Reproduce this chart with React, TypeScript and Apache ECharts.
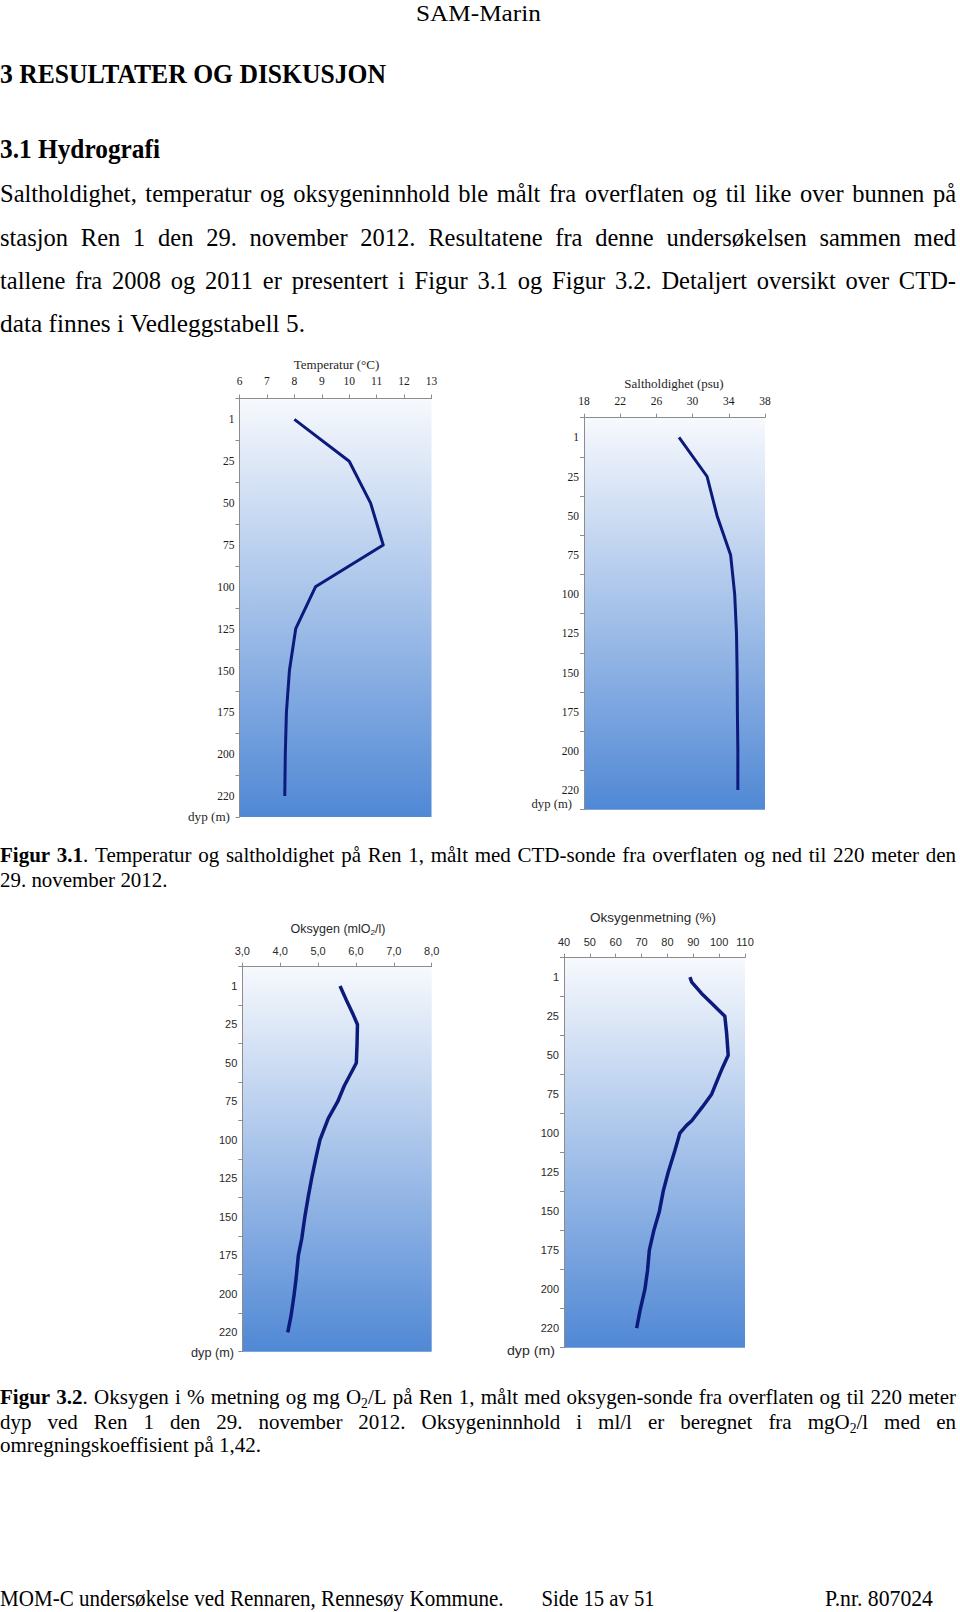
import React, { useEffect, useRef } from 'react';
import * as echarts from 'echarts';

// ---------------- data ----------------
const depthLabels = ['1', '25', '50', '75', '100', '125', '150', '175', '200', '220'];
const temperature = [8.0, 10.0, 10.78, 11.24, 8.77, 8.05, 7.82, 7.71, 7.67, 7.65];
const salinity = [28.5, 31.6, 32.7, 34.2, 34.65, 34.85, 34.92, 34.95, 35.0, 35.0];
const salinityTicks = [18, 22, 26, 30, 34, 38];
const oxygenDepths = [1, 10, 19, 25, 37, 50, 58, 65, 75, 86, 100, 112, 125, 137, 150, 164, 175, 190, 200, 211, 220];
const oxygenMl = [5.58, 5.75, 5.93, 6.04, 6.03, 6.01, 5.84, 5.69, 5.52, 5.27, 5.05, 4.94, 4.83, 4.74, 4.65, 4.57, 4.48, 4.42, 4.37, 4.29, 4.2];
const saturationDepths = [1, 4, 11, 17, 25, 36, 50, 58, 66, 75, 83, 92, 95, 100, 111, 125, 137, 150, 162, 175, 188, 200, 211, 220];
const saturation = [88.7, 89.4, 93.2, 97.1, 102.2, 102.9, 103.5, 101.3, 99.3, 97.1, 93.6, 89.4, 87.4, 84.8, 82.9, 80.3, 78.4, 76.9, 74.8, 73.0, 72.3, 71.3, 69.4, 68.1];

// ---------------- texts ----------------
const pageHeader = 'SAM-Marin';
const sectionTitle = '3 RESULTATER OG DISKUSJON';
const subsectionTitle = '3.1 Hydrografi';
const bodyLines = [
  'Saltholdighet, temperatur og oksygeninnhold ble målt fra overflaten og til like over bunnen på',
  'stasjon Ren 1 den 29. november 2012. Resultatene fra denne undersøkelsen sammen med',
  'tallene fra 2008 og 2011 er presentert i Figur 3.1 og Figur 3.2. Detaljert oversikt over CTD-',
  'data finnes i Vedleggstabell 5.',
];
const caption31 = [
  '{b|Figur} {b|3.1}. Temperatur og saltholdighet på Ren 1, målt med CTD-sonde fra overflaten og ned til 220 meter den',
  '29. november 2012.',
];
const caption32 = [
  '{b|Figur} {b|3.2}. Oksygen i % metning og mg O{s|2}/L på Ren 1, målt med oksygen-sonde fra overflaten og til 220 meter',
  'dyp ved Ren 1 den 29. november 2012. Oksygeninnhold i ml/l er beregnet fra mgO{s|2}/l med en',
  'omregningskoeffisient på 1,42.',
];
const footerLeft = 'MOM-C undersøkelse ved Rennaren, Rennesøy Kommune.';
const footerMid = 'Side 15 av 51';
const footerRight = 'P.nr. 807024';
const chartTitles = ['Temperatur (°C)', 'Saltholdighet (psu)', 'Oksygen (mlO{s|2}/l)', 'Oksygenmetning (%)'];
const depthAxisName = 'dyp (m)';

// ---------------- styling ----------------
const SERIF = '"Liberation Serif", "Times New Roman", serif';
const SANS = '"Liberation Sans", Arial, sans-serif';
const NAVY = '#0c1a7c';
const AXIS_GREY = '#8c8c8c';
const GRIDS = [
  { left: 239.5, top: 398.5, width: 192, height: 418.5 },
  { left: 584, top: 417.7, width: 181, height: 392 },
  { left: 242.3, top: 966.7, width: 189.4, height: 385 },
  { left: 564, top: 957.7, width: 181, height: 390 },
];

const depthValues = depthLabels.map(Number);
function depthIndex(d: number): number {
  for (let i = 0; i < depthValues.length - 1; i++) {
    if (d <= depthValues[i + 1]) return i + (d - depthValues[i]) / (depthValues[i + 1] - depthValues[i]);
  }
  return depthValues.length - 1;
}

let ctx: CanvasRenderingContext2D | null = null;
function measure(text: string, font: string): number {
  if (!ctx) ctx = document.createElement('canvas').getContext('2d');
  ctx!.font = font;
  return ctx!.measureText(text).width;
}

type Spec = {
  text: string;
  mode: 'justify' | 'fit' | 'center' | 'left';
  x0?: number;
  x1?: number;
  cx?: number;
  base: number;
  fs: number;
  family: string;
  bold?: boolean;
  color?: string;
};

function parseWord(word: string) {
  const segs: { t: string; st: string }[] = [];
  const re = /\{(\w)\|([^}]*)\}|([^{]+)/g;
  let m: RegExpExecArray | null;
  while ((m = re.exec(word))) {
    if (m[3] !== undefined) segs.push({ t: m[3], st: '' });
    else segs.push({ t: m[2], st: m[1] });
  }
  return segs;
}

function layoutText(s: Spec): any[] {
  const central = s.family === SANS ? 0.3465 : 0.3375;
  const words = s.text.split(' ').map((w) =>
    parseWord(w).map((seg) => {
      const weight = seg.st === 'b' || s.bold ? 'bold' : 'normal';
      const size = seg.st === 's' ? s.fs * 0.65 : s.fs;
      const css = `${weight} ${size}px ${s.family}`;
      return { ...seg, weight, size, w: measure(seg.t, css) };
    })
  );
  const wordW = words.map((ws) => ws.reduce((a, b) => a + b.w, 0));
  const sum = wordW.reduce((a, b) => a + b, 0);
  const space = measure(' ', `${s.bold ? 'bold' : 'normal'} ${s.fs}px ${s.family}`);
  const n = words.length;
  const natural = sum + space * (n - 1);
  let scale = 1;
  let gap = space;
  let start = s.x0 ?? 0;
  if (s.mode === 'justify') {
    const target = (s.x1 as number) - (s.x0 as number);
    gap = n > 1 ? (target - sum) / (n - 1) : 0;
    if (gap < space * 0.5) {
      scale = target / natural;
      gap = space;
    }
  } else if (s.mode === 'fit') {
    scale = ((s.x1 as number) - (s.x0 as number)) / natural;
  } else if (s.mode === 'center') {
    start = (s.cx as number) - natural / 2;
  }
  const els: any[] = [];
  let pos = 0;
  words.forEach((ws) => {
    ws.forEach((seg) => {
      const y = s.base - central * seg.size + (seg.st === 's' ? s.fs * 0.2 : 0);
      els.push({
        type: 'text',
        x: start + pos * scale,
        y,
        scaleX: scale,
        silent: true,
        style: {
          text: seg.t,
          fontSize: seg.size,
          fontFamily: s.family,
          fontWeight: seg.weight,
          fill: s.color || '#000',
          align: 'left',
          verticalAlign: 'middle',
          textAlign: 'left',
          textVerticalAlign: 'middle',
        },
      });
      pos += seg.w;
    });
    pos += gap;
  });
  return els;
}

function pageTexts(): any[] {
  const specs: Spec[] = [];
  specs.push({ text: pageHeader, mode: 'fit', x0: 416, x1: 541, base: 20.5, fs: 24, family: SERIF });
  specs.push({ text: sectionTitle, mode: 'fit', x0: 0, x1: 386, base: 83.3, fs: 28, family: SERIF, bold: true });
  specs.push({ text: subsectionTitle, mode: 'fit', x0: 0, x1: 160, base: 158, fs: 28, family: SERIF, bold: true });
  const bodyBase = [201.8, 245.3, 288.8, 332.3];
  bodyLines.forEach((t, i) =>
    specs.push(
      i < bodyLines.length - 1
        ? { text: t, mode: 'justify', x0: 0, x1: 956, base: bodyBase[i], fs: 24.5, family: SERIF }
        : { text: t, mode: 'fit', x0: 0, x1: 305, base: bodyBase[i], fs: 24.5, family: SERIF }
    )
  );
  const c31Base = [862.3, 887];
  specs.push({ text: caption31[0], mode: 'justify', x0: 0, x1: 956, base: c31Base[0], fs: 21, family: SERIF });
  specs.push({ text: caption31[1], mode: 'fit', x0: 0, x1: 167.5, base: c31Base[1], fs: 21, family: SERIF });
  const c32Base = [1404, 1428.6, 1452.3];
  specs.push({ text: caption32[0], mode: 'justify', x0: 0, x1: 956, base: c32Base[0], fs: 21, family: SERIF });
  specs.push({ text: caption32[1], mode: 'justify', x0: 0, x1: 956, base: c32Base[1], fs: 21, family: SERIF });
  specs.push({ text: caption32[2], mode: 'fit', x0: 0, x1: 261, base: c32Base[2], fs: 21, family: SERIF });
  specs.push({ text: footerLeft, mode: 'fit', x0: 0, x1: 503.6, base: 1606, fs: 22.5, family: SERIF });
  specs.push({ text: footerMid, mode: 'fit', x0: 541.6, x1: 654.7, base: 1606, fs: 22.5, family: SERIF });
  specs.push({ text: footerRight, mode: 'fit', x0: 825, x1: 933, base: 1606, fs: 22.5, family: SERIF });
  // chart titles
  specs.push({ text: chartTitles[0], mode: 'center', cx: 336.5, base: 369.3, fs: 13, family: SERIF, color: '#262626' });
  specs.push({ text: chartTitles[1], mode: 'center', cx: 674, base: 388.3, fs: 13, family: SERIF, color: '#262626' });
  specs.push({ text: chartTitles[2], mode: 'center', cx: 338, base: 933.3, fs: 12.5, family: SANS, color: '#2a2a2a' });
  specs.push({ text: chartTitles[3], mode: 'center', cx: 653, base: 922.3, fs: 13.5, family: SANS, color: '#2a2a2a' });
  // depth axis names
  specs.push({ text: depthAxisName, mode: 'fit', x0: 188, x1: 230, base: 821, fs: 13, family: SERIF, color: '#262626' });
  specs.push({ text: depthAxisName, mode: 'fit', x0: 531.5, x1: 572, base: 808.5, fs: 13, family: SERIF, color: '#262626' });
  specs.push({ text: depthAxisName, mode: 'fit', x0: 191, x1: 234, base: 1357, fs: 12.5, family: SANS, color: '#2a2a2a' });
  specs.push({ text: depthAxisName, mode: 'fit', x0: 507, x1: 555, base: 1355, fs: 13, family: SANS, color: '#2a2a2a' });
  return specs.flatMap(layoutText);
}

function buildOption(): any {
  const plotBg = new echarts.graphic.LinearGradient(0, 0, 0, 1, [
    { offset: 0, color: '#f7f9fd' },
    { offset: 1, color: '#5088d5' },
  ]);
  const grids = GRIDS.map((g) => ({ ...g, show: true, backgroundColor: plotBg, borderWidth: 0, containLabel: false }));
  const fam = [SERIF, SERIF, SANS, SANS];
  const labColor = ['#1a1a1a', '#1a1a1a', '#2a2a2a', '#2a2a2a'];
  const labSize = [11.5, 11.5, 11, 11];
  const xMargins = [11.5, 11, 10.5, 10.5];
  const yMargins = [5, 5, 5, 5];
  const xBase = (i: number) => ({
    gridIndex: i,
    type: 'value',
    position: 'top',
    axisLine: { show: true, onZero: false, lineStyle: { color: AXIS_GREY, width: 1 } },
    axisTick: { show: true, length: 4, lineStyle: { color: AXIS_GREY } },
    splitLine: { show: false },
    axisLabel: { fontFamily: fam[i], fontSize: labSize[i], color: labColor[i], margin: xMargins[i] },
  });
  const xAxis = [
    { ...xBase(0), min: 6, max: 13, interval: 1 },
    {
      ...xBase(1),
      min: 18,
      max: 38,
      axisLabel: { ...xBase(1).axisLabel, customValues: salinityTicks },
      axisTick: { ...xBase(1).axisTick, customValues: salinityTicks },
    },
    {
      ...xBase(2),
      min: 3,
      max: 8,
      interval: 1,
      axisLabel: { ...xBase(2).axisLabel, formatter: (v: number) => v.toFixed(1).replace('.', ',') },
    },
    { ...xBase(3), min: 40, max: 110, interval: 10 },
  ];
  const yCat = (i: number) => ({
    gridIndex: i,
    type: 'category',
    inverse: true,
    data: depthLabels,
    boundaryGap: true,
    axisLine: { show: true, onZero: false, lineStyle: { color: AXIS_GREY, width: 1 } },
    axisTick: { show: true, length: 4, alignWithLabel: false, lineStyle: { color: AXIS_GREY } },
    splitLine: { show: false },
    axisLabel: { fontFamily: fam[i], fontSize: labSize[i], color: labColor[i], margin: yMargins[i] },
  });
  const yHidden = (i: number) => ({
    gridIndex: i,
    type: 'value',
    inverse: true,
    min: -0.5,
    max: depthLabels.length - 0.5,
    show: false,
    axisLine: { onZero: false },
    splitLine: { show: false },
  });
  const yAxis = [yCat(0), yCat(1), yCat(2), yCat(3), yHidden(2), yHidden(3)];
  const line = (xi: number, yi: number, data: any[], width: number) => ({
    type: 'line',
    xAxisIndex: xi,
    yAxisIndex: yi,
    data,
    symbol: 'none',
    silent: true,
    lineStyle: { color: NAVY, width, join: 'round', cap: 'butt' },
  });
  const series = [
    line(0, 0, temperature.map((v, i) => [v, i]), 3),
    line(1, 1, salinity.map((v, i) => [v, i]), 3),
    line(2, 4, oxygenMl.map((v, i) => [v, depthIndex(oxygenDepths[i])]), 3.5),
    line(3, 5, saturation.map((v, i) => [v, depthIndex(saturationDepths[i])]), 3.5),
  ];
  return {
    animation: false,
    backgroundColor: '#ffffff',
    grid: grids,
    xAxis,
    yAxis,
    series,
    graphic: { elements: pageTexts() },
  };
}

export default function App() {
  const ref = useRef<HTMLDivElement>(null);
  useEffect(() => {
    const chart = echarts.init(ref.current!, null, { renderer: 'svg', width: 960, height: 1612 });
    chart.setOption(buildOption());
    return () => chart.dispose();
  }, []);
  return (
    <div
      ref={ref}
      style={{ position: 'absolute', left: 0, top: 0, width: 960, height: 1612, background: '#fff' }}
    />
  );
}
